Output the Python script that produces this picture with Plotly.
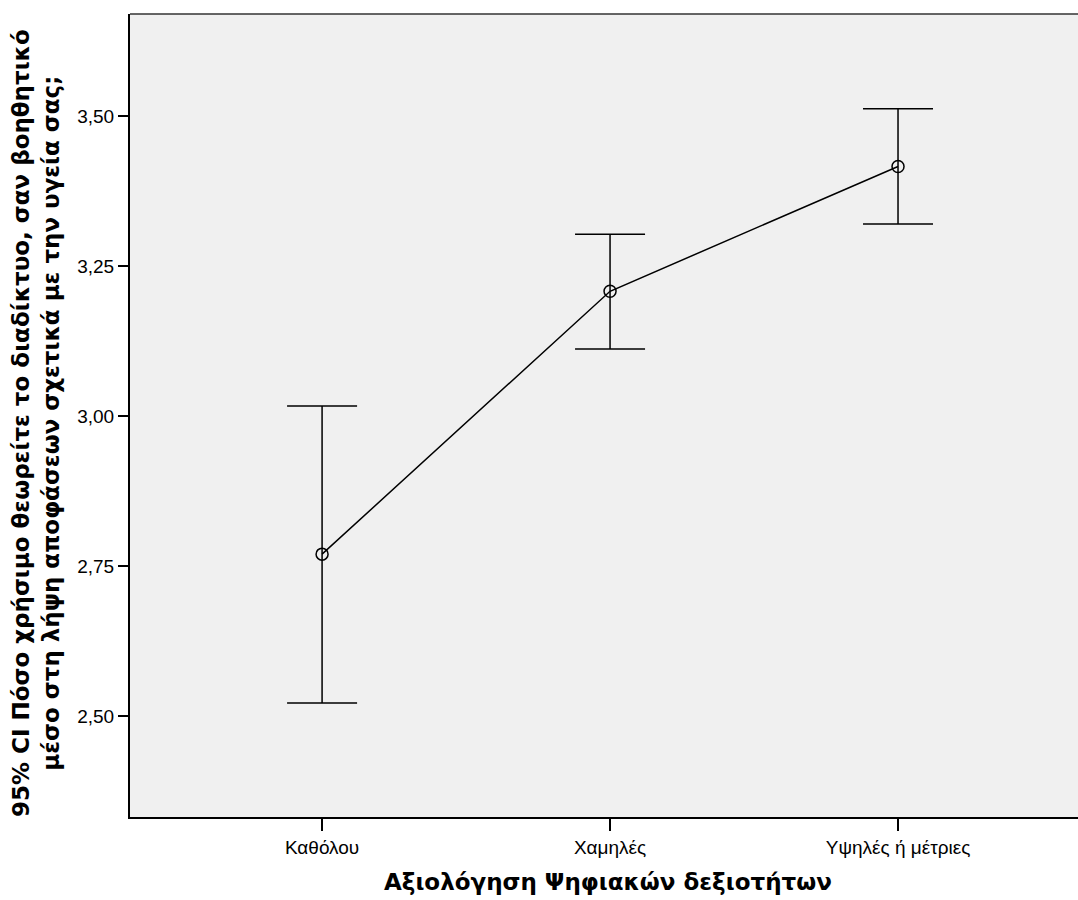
import plotly.graph_objects as go

categories = ["Καθόλου", "Χαμηλές", "Υψηλές ή μέτριες"]
means = [2.770, 3.208, 3.416]
ci_upper = [3.017, 3.303, 3.512]
ci_lower = [2.522, 3.112, 3.320]
y_ticks = [2.50, 2.75, 3.00, 3.25, 3.50]

x_pos = list(range(len(categories)))
err_plus = [u - m for u, m in zip(ci_upper, means)]
err_minus = [m - l for m, l in zip(means, ci_lower)]

fig = go.Figure()
fig.add_trace(go.Scatter(
    x=x_pos, y=means, mode="lines+markers",
    line=dict(color="black", width=1.5),
    marker=dict(symbol="circle-open", size=12, color="black", line=dict(width=1.5)),
    error_y=dict(type="data", symmetric=False, array=err_plus, arrayminus=err_minus,
                 color="black", thickness=1.5, width=35),
    showlegend=False, hoverinfo="skip",
))

fig.update_layout(
    width=1078, height=900,
    margin=dict(l=130, r=0, t=14, b=83, autoexpand=False),
    paper_bgcolor="white", plot_bgcolor="#f0f0f0",
    separators=",.",
    font=dict(family="Liberation Sans, Arial, sans-serif", color="black"),
    xaxis=dict(range=[-0.667, 2.625], tickvals=x_pos, ticktext=categories,
               ticks="outside", ticklen=12, tickwidth=1.5, tickcolor="black",
               showgrid=False, zeroline=False, showline=True, linecolor="black", linewidth=2,
               tickfont=dict(family="Liberation Sans, Arial, sans-serif", size=19),
               mirror=False),
    yaxis=dict(range=[2.332, 3.670], tickvals=y_ticks, tickformat=".2f",
               ticks="outside", ticklen=10, tickwidth=1.5, tickcolor="black",
               showgrid=False, zeroline=False, showline=True, linecolor="black", linewidth=2,
               tickfont=dict(size=19)),
    shapes=[dict(type="line", xref="paper", yref="paper", x0=0, x1=1, y0=1, y1=1,
                 line=dict(color="#333333", width=1.5))],
    annotations=[
        dict(text="Αξιολόγηση Ψηφιακών δεξιοτήτων", xref="paper", yref="paper",
             x=(608 - 130) / 948, y=-(882 - 817) / 803, xanchor="center", yanchor="middle",
             showarrow=False, font=dict(size=23, family="DejaVu Sans, sans-serif", weight="bold")),
        dict(text="95% CI Πόσο χρήσιμο θεωρείτε το διαδίκτυο, σαν βοηθητικό<br>μέσο στη λήψη αποφάσεων σχετικά με την υγεία σας;",
             xref="paper", yref="paper", x=-(130 - 36) / 948, y=(817 - 423) / 803,
             xanchor="center", yanchor="middle", textangle=-90, showarrow=False,
             font=dict(size=23, family="DejaVu Sans, sans-serif", weight="bold")),
    ],
)

fig.write_html("out.html", config={"displayModeBar": False},
               post_script="document.body.style.margin='0';document.body.style.overflow='hidden';")
